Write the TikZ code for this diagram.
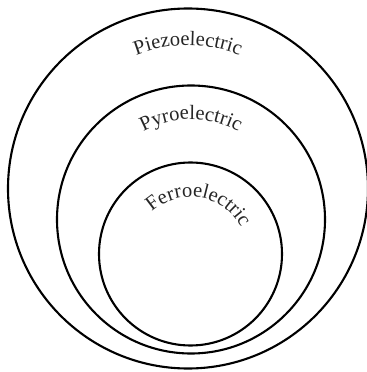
\documentclass[tikz,border=0pt]{standalone}
\usepackage{fontspec}
\setmainfont{Liberation Serif}
\usetikzlibrary{calc,decorations.text}
\newcommand\labfont{\fontsize{20.5bp}{20.5bp}\selectfont}
\tikzset{
  ring/.style={circle, draw=black, line width=2.1bp, inner sep=0pt},
  arclab/.style={decorate, decoration={text along path, text align=center,
      text color=black!85, text={|\labfont|#1}}},
}
\begin{document}
\begin{tikzpicture}[x=1bp, y=1bp]
  \useasboundingbox (0,0) rectangle (367,372);
  % nested circles
  \node[ring, minimum size=360bp] (piezo) at (188,183.5) {};
  \node[ring, minimum size=268bp] (pyro) at (191,152.5) {};
  \node[ring, minimum size=183bp] (ferro) at (190.5,118) {};
  % curved labels
  \path[arclab=Piezoelectric] ($(piezo.center)+(160:143bp)$)
    arc[start angle=160, end angle=20, radius=143bp];
  \path[arclab=Pyroelectric] ($(pyro.center)+(160:100bp)$)
    arc[start angle=160, end angle=20, radius=100bp];
  \path[arclab=Ferroelectric] ($(ferro.center)+(146:57bp)$)
    arc[start angle=146, end angle=14, radius=57bp];
\end{tikzpicture}
\end{document}
